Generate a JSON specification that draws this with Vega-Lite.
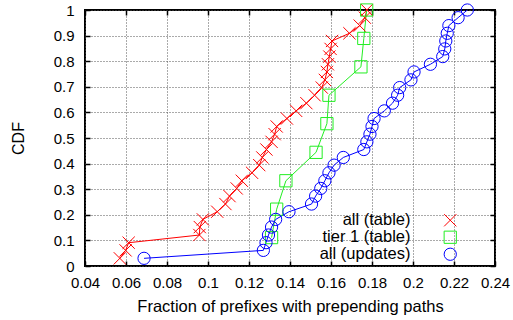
{
  "$schema": "https://vega.github.io/schema/vega-lite/v6.json",
  "width": 410,
  "height": 256,
  "autosize": {"type": "none"},
  "padding": {"left": 85, "top": 10, "right": 18, "bottom": 54},
  "background": "white",
  "config": {
    "view": {"stroke": "black", "strokeWidth": 2},
    "font": "Liberation Sans",
    "axis": {
      "domain": false,
      "labelFont": "Liberation Sans",
      "titleFont": "Liberation Sans",
      "labelColor": "black",
      "titleColor": "black",
      "titleFontWeight": "normal",
      "tickColor": "black",
      "tickWidth": 1.5,
      "tickSize": -5,
      "labelOverlap": false,
      "labelFlush": false,
      "gridColor": "#555",
      "gridDash": [1, 2],
      "gridWidth": 1,
      "gridOpacity": 1
    }
  },
  "data": {
    "values": [
      {"series": "all (table)", "x": 0.0570, "y": 0.030},
      {"series": "all (table)", "x": 0.0598, "y": 0.061},
      {"series": "all (table)", "x": 0.0613, "y": 0.091},
      {"series": "all (table)", "x": 0.0958, "y": 0.121},
      {"series": "all (table)", "x": 0.0960, "y": 0.152},
      {"series": "all (table)", "x": 0.0975, "y": 0.182},
      {"series": "all (table)", "x": 0.1045, "y": 0.212},
      {"series": "all (table)", "x": 0.1085, "y": 0.242},
      {"series": "all (table)", "x": 0.1105, "y": 0.273},
      {"series": "all (table)", "x": 0.1140, "y": 0.303},
      {"series": "all (table)", "x": 0.1165, "y": 0.333},
      {"series": "all (table)", "x": 0.1215, "y": 0.364},
      {"series": "all (table)", "x": 0.1250, "y": 0.394},
      {"series": "all (table)", "x": 0.1265, "y": 0.424},
      {"series": "all (table)", "x": 0.1285, "y": 0.455},
      {"series": "all (table)", "x": 0.1310, "y": 0.485},
      {"series": "all (table)", "x": 0.1325, "y": 0.515},
      {"series": "all (table)", "x": 0.1335, "y": 0.545},
      {"series": "all (table)", "x": 0.1385, "y": 0.576},
      {"series": "all (table)", "x": 0.1430, "y": 0.606},
      {"series": "all (table)", "x": 0.1480, "y": 0.636},
      {"series": "all (table)", "x": 0.1520, "y": 0.667},
      {"series": "all (table)", "x": 0.1555, "y": 0.697},
      {"series": "all (table)", "x": 0.1570, "y": 0.727},
      {"series": "all (table)", "x": 0.1580, "y": 0.758},
      {"series": "all (table)", "x": 0.1585, "y": 0.788},
      {"series": "all (table)", "x": 0.1592, "y": 0.818},
      {"series": "all (table)", "x": 0.1598, "y": 0.848},
      {"series": "all (table)", "x": 0.1605, "y": 0.879},
      {"series": "all (table)", "x": 0.1690, "y": 0.909},
      {"series": "all (table)", "x": 0.1740, "y": 0.939},
      {"series": "all (table)", "x": 0.1765, "y": 0.970},
      {"series": "all (table)", "x": 0.1775, "y": 1.000},
      {"series": "tier 1 (table)", "x": 0.1310, "y": 0.111},
      {"series": "tier 1 (table)", "x": 0.1335, "y": 0.222},
      {"series": "tier 1 (table)", "x": 0.1380, "y": 0.333},
      {"series": "tier 1 (table)", "x": 0.1527, "y": 0.444},
      {"series": "tier 1 (table)", "x": 0.1580, "y": 0.556},
      {"series": "tier 1 (table)", "x": 0.1590, "y": 0.667},
      {"series": "tier 1 (table)", "x": 0.1746, "y": 0.778},
      {"series": "tier 1 (table)", "x": 0.1760, "y": 0.889},
      {"series": "tier 1 (table)", "x": 0.1774, "y": 1.000},
      {"series": "all (updates)", "x": 0.0688, "y": 0.030},
      {"series": "all (updates)", "x": 0.1270, "y": 0.061},
      {"series": "all (updates)", "x": 0.1283, "y": 0.091},
      {"series": "all (updates)", "x": 0.1295, "y": 0.121},
      {"series": "all (updates)", "x": 0.1310, "y": 0.152},
      {"series": "all (updates)", "x": 0.1330, "y": 0.182},
      {"series": "all (updates)", "x": 0.1395, "y": 0.212},
      {"series": "all (updates)", "x": 0.1505, "y": 0.242},
      {"series": "all (updates)", "x": 0.1525, "y": 0.273},
      {"series": "all (updates)", "x": 0.1550, "y": 0.303},
      {"series": "all (updates)", "x": 0.1570, "y": 0.333},
      {"series": "all (updates)", "x": 0.1590, "y": 0.364},
      {"series": "all (updates)", "x": 0.1615, "y": 0.394},
      {"series": "all (updates)", "x": 0.1660, "y": 0.424},
      {"series": "all (updates)", "x": 0.1760, "y": 0.455},
      {"series": "all (updates)", "x": 0.1775, "y": 0.485},
      {"series": "all (updates)", "x": 0.1790, "y": 0.515},
      {"series": "all (updates)", "x": 0.1800, "y": 0.545},
      {"series": "all (updates)", "x": 0.1810, "y": 0.576},
      {"series": "all (updates)", "x": 0.1860, "y": 0.606},
      {"series": "all (updates)", "x": 0.1900, "y": 0.636},
      {"series": "all (updates)", "x": 0.1925, "y": 0.667},
      {"series": "all (updates)", "x": 0.1935, "y": 0.697},
      {"series": "all (updates)", "x": 0.1990, "y": 0.727},
      {"series": "all (updates)", "x": 0.2005, "y": 0.758},
      {"series": "all (updates)", "x": 0.2085, "y": 0.788},
      {"series": "all (updates)", "x": 0.2145, "y": 0.818},
      {"series": "all (updates)", "x": 0.2155, "y": 0.848},
      {"series": "all (updates)", "x": 0.2160, "y": 0.879},
      {"series": "all (updates)", "x": 0.2167, "y": 0.909},
      {"series": "all (updates)", "x": 0.2175, "y": 0.939},
      {"series": "all (updates)", "x": 0.2220, "y": 0.970},
      {"series": "all (updates)", "x": 0.2265, "y": 1.000}
    ]
  },
  "resolve": {"axis": {"x": "independent", "y": "independent"}},
  "layer": [
    {
      "mark": {"type": "line", "strokeWidth": 1, "clip": false},
      "encoding": {
        "x": {
          "field": "x", "type": "quantitative",
          "scale": {"domain": [0.04, 0.24], "nice": false, "zero": false},
          "axis": {
            "orient": "bottom",
            "values": [0.04, 0.06, 0.08, 0.1, 0.12, 0.14, 0.16, 0.18, 0.2, 0.22, 0.24],
            "format": "~g",
            "labelFontSize": 15,
            "labelPadding": 14,
            "title": "Fraction of prefixes with prepending paths",
            "titleFontSize": 16.5,
            "titlePadding": 8,
            "grid": true
          }
        },
        "y": {
          "field": "y", "type": "quantitative",
          "scale": {"domain": [0, 1], "nice": false, "zero": false},
          "axis": {
            "orient": "left",
            "values": [0, 0.1, 0.2, 0.3, 0.4, 0.5, 0.6, 0.7, 0.8, 0.9, 1],
            "format": "~g",
            "labelFontSize": 15,
            "labelPadding": 16,
            "title": "CDF",
            "titleFontSize": 16,
            "titlePadding": 27,
            "grid": true
          }
        },
        "color": {
          "field": "series", "type": "nominal",
          "scale": {"domain": ["all (table)", "tier 1 (table)", "all (updates)"], "range": ["#ff0000", "#22ee22", "#0000ff"]}
        },
        "order": {"field": "y", "type": "quantitative"}
      }
    },
    {
      "mark": {"type": "point", "filled": false, "strokeWidth": 1, "size": 150, "opacity": 1, "clip": false},
      "encoding": {
        "x": {
          "field": "x", "type": "quantitative",
          "axis": {
            "orient": "top",
            "values": [0.04, 0.06, 0.08, 0.1, 0.12, 0.14, 0.16, 0.18, 0.2, 0.22, 0.24],
            "labels": false, "title": null, "grid": false
          }
        },
        "y": {
          "field": "y", "type": "quantitative",
          "axis": {
            "orient": "right",
            "values": [0, 0.1, 0.2, 0.3, 0.4, 0.5, 0.6, 0.7, 0.8, 0.9, 1],
            "labels": false, "title": null, "grid": false
          }
        },
        "color": {
          "field": "series", "type": "nominal",
          "legend": {
            "title": null,
            "orient": "none",
            "legendX": 357,
            "legendY": 202,
            "labelFontSize": 16.5,
            "labelFont": "Liberation Sans",
            "labelColor": "black",
            "labelAlign": "right",
            "labelOffset": -48,
            "rowPadding": -1.5,
            "padding": 0,
            "symbolSize": 150,
            "symbolStrokeWidth": 1,
            "symbolFillColor": "transparent"
          }
        },
        "shape": {
          "field": "series", "type": "nominal",
          "scale": {"domain": ["all (table)", "tier 1 (table)", "all (updates)"], "range": ["M -1 -1 L 1 1 M -1 1 L 1 -1", "square", "circle"]},
          "legend": {
            "title": null,
            "orient": "none",
            "legendX": 357,
            "legendY": 202,
            "labelFontSize": 16.5,
            "labelFont": "Liberation Sans",
            "labelColor": "black",
            "labelAlign": "right",
            "labelOffset": -48,
            "rowPadding": -1.5,
            "padding": 0,
            "symbolSize": 150,
            "symbolStrokeWidth": 1,
            "symbolFillColor": "transparent"
          }
        }
      }
    }
  ]
}
